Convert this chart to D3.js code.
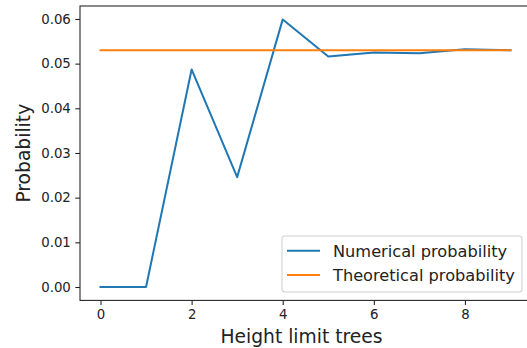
<!DOCTYPE html>
<html>
<head>
<meta charset="utf-8">
<script src="https://cdn.jsdelivr.net/npm/d3@7"></script>
<style>
  html, body { margin: 0; padding: 0; background: #fff; }
  svg { display: block; font-family: "DejaVu Sans", sans-serif; }
</style>
</head>
<body>
<svg id="chart" width="527" height="348"></svg>
<script>
// Height limit of the trees (x) and the probabilities measured / predicted
const heights = [0, 1, 2, 3, 4, 5, 6, 7, 8, 9];
const numericalProb = [0.0, 0.0, 0.0487, 0.0246, 0.0599, 0.0516, 0.0525, 0.0523, 0.0532, 0.0530];
const theoreticalProb = [0.0530, 0.0530, 0.0530, 0.0530, 0.0530, 0.0530, 0.0530, 0.0530, 0.0530, 0.0530];
const xTicks = [0, 2, 4, 6, 8];
const yTicks = [0.00, 0.01, 0.02, 0.03, 0.04, 0.05, 0.06];
const seriesNames = ["Numerical probability", "Theoretical probability"];
const seriesColors = ["#1f77b4", "#ff7f0e"];

const svg = d3.select("#chart");
const plot = { left: 80, top: 6, right: 531, bottom: 300.4 };

const x = d3.scaleLinear().domain([-0.45, 9.45]).range([plot.left, plot.right]);
const y = d3.scaleLinear().domain([-0.003, 0.0629]).range([plot.bottom, plot.top]);

const ink = "#222";

// Lines
const line = d3.line().x((d, i) => x(heights[i])).y(d => y(d));
[numericalProb, theoreticalProb].forEach((vals, k) => {
  svg.append("path")
    .datum(vals)
    .attr("d", line)
    .attr("fill", "none")
    .attr("stroke", seriesColors[k])
    .attr("stroke-width", 2)
    .attr("stroke-linejoin", "round")
    .attr("stroke-linecap", "square");
});

// Axes
const xAxis = d3.axisBottom(x).tickValues(xTicks).tickFormat(d3.format("d"))
  .tickSize(4.7).tickPadding(4.5);
const yAxis = d3.axisLeft(y).tickValues(yTicks).tickFormat(d3.format(".2f"))
  .tickSize(4.7).tickPadding(4.5);

const gx = svg.append("g").attr("transform", `translate(0,${plot.bottom})`).call(xAxis);
const gy = svg.append("g").attr("transform", `translate(${plot.left},0)`).call(yAxis);
[gx, gy].forEach(g => {
  g.select(".domain").remove();
  g.selectAll(".tick line").attr("stroke", ink).attr("stroke-width", 1.07);
  g.selectAll(".tick text").attr("fill", ink).style("font-size", "13.3px")
    .style("font-family", "DejaVu Sans, sans-serif");
});

// Frame (spines)
svg.append("rect")
  .attr("x", plot.left).attr("y", plot.top)
  .attr("width", plot.right - plot.left).attr("height", plot.bottom - plot.top)
  .attr("fill", "none").attr("stroke", ink).attr("stroke-width", 1.07);

// Axis titles
svg.append("text")
  .attr("x", (plot.left + plot.right) / 2 - 4).attr("y", 343)
  .attr("text-anchor", "middle").attr("fill", ink)
  .style("font-size", "18.7px")
  .text("Height limit trees");

svg.append("text")
  .attr("transform", `translate(30,${(plot.top + plot.bottom) / 2}) rotate(-90)`)
  .attr("text-anchor", "middle").attr("fill", ink)
  .style("font-size", "18.7px")
  .text("Probability");

// Legend
const legend = svg.append("g");
legend.append("rect")
  .attr("x", 282).attr("y", 236).attr("width", 240).attr("height", 56)
  .attr("rx", 3).attr("fill", "#fff").attr("fill-opacity", 0.8)
  .attr("stroke", "#d0d0d0").attr("stroke-width", 1.07);
seriesNames.forEach((name, i) => {
  const cy = 250.7 + i * 24.3;
  legend.append("line")
    .attr("x1", 287).attr("x2", 320).attr("y1", cy).attr("y2", cy)
    .attr("stroke", seriesColors[i]).attr("stroke-width", 2);
  legend.append("text")
    .attr("x", 333).attr("y", cy).attr("dy", "0.36em")
    .attr("fill", ink).style("font-size", "16.2px")
    .text(name);
});
</script>
</body>
</html>
